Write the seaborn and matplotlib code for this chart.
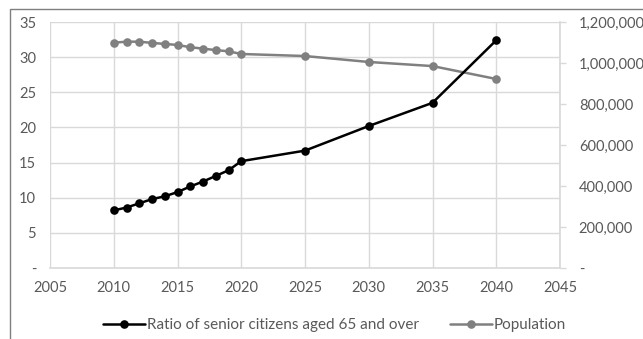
import numpy as np
import pandas as pd
import matplotlib
matplotlib.use('Agg')
import matplotlib.pyplot as plt
import seaborn as sns
from matplotlib.ticker import FuncFormatter, MultipleLocator
from matplotlib.lines import Line2D
from matplotlib.patches import Rectangle

# data
years = [2010, 2011, 2012, 2013, 2014, 2015, 2016, 2017, 2018, 2019, 2020, 2025, 2030, 2035, 2040]
ratio = [8.2, 8.6, 9.2, 9.8, 10.2, 10.8, 11.6, 12.3, 13.1, 13.9, 15.2, 16.7, 20.2, 23.5, 32.4]
population = [1099000, 1104000, 1104000, 1098000, 1093000, 1088000, 1077000, 1070000,
              1063000, 1057000, 1044000, 1034000, 1005000, 985000, 922000]
ratio_label = "Ratio of senior citizens aged 65 and over"
pop_label = "Population"

df = pd.DataFrame({"year": years, "ratio": ratio, "population": population})

sns.set_theme(style="white")
plt.rcParams['font.family'] = ['Lato', 'DejaVu Sans']
text_col = "#595959"
grid_col = "#d9d9d9"
ms, lw = 6.2, 1.8

fig = plt.figure(figsize=(6.43, 3.39), dpi=100)
rect = [50 / 643, 1 - 268 / 339, 510 / 643, 246 / 339]
ax = fig.add_axes(rect)            # grid + left axis
ax2 = ax.twinx()                   # population, right axis
ax3 = fig.add_axes(rect, sharex=ax, sharey=ax)  # ratio line on top
ax.set_zorder(0)
ax2.set_zorder(1)
ax3.set_zorder(2)
ax2.patch.set_visible(False)
ax3.patch.set_visible(False)

sns.lineplot(data=df, x="year", y="population", ax=ax2, color="#808080", marker="o",
             markersize=ms, linewidth=lw, markeredgewidth=0)
sns.lineplot(data=df, x="year", y="ratio", ax=ax3, color="black", marker="o",
             markersize=ms, linewidth=lw, markeredgewidth=0)

ax.set_xlim(2005, 2045)
ax.set_ylim(0, 35)
ax2.set_ylim(0, 1200000)
ax.xaxis.set_major_locator(MultipleLocator(5))
ax.yaxis.set_major_locator(MultipleLocator(5))
ax2.yaxis.set_major_locator(MultipleLocator(200000))

ax.yaxis.set_major_formatter(FuncFormatter(lambda v, p: "-" if v == 0 else f"{v:.0f}"))
ax2.yaxis.set_major_formatter(FuncFormatter(lambda v, p: "-" if v == 0 else f"{v:,.0f}"))

ax.grid(True, color=grid_col, linewidth=1)
ax2.grid(False)
ax3.grid(False)
for a in (ax, ax2, ax3):
    a.set_xlabel("")
    a.set_ylabel("")
    for s in a.spines.values():
        s.set_visible(False)
ax3.tick_params(left=False, bottom=False, labelleft=False, labelbottom=False)

ax2.spines['right'].set_visible(True)
ax2.spines['right'].set_color(grid_col)
ax2.spines['bottom'].set_visible(True)
ax2.spines['bottom'].set_color(grid_col)
ax2.spines['bottom'].set_linewidth(1.2)

ax.tick_params(axis='x', length=0, pad=9, labelsize=10.5, labelcolor=text_col)
ax.tick_params(axis='y', length=0, pad=10, labelsize=10.5, labelcolor=text_col)
ax2.tick_params(axis='y', right=True, length=4.5, width=1, color=grid_col, pad=9,
                labelsize=10.5, labelcolor=text_col)

handles = [Line2D([], [], color="black", marker="o", markersize=ms, linewidth=lw, markeredgewidth=0),
           Line2D([], [], color="#808080", marker="o", markersize=ms, linewidth=lw, markeredgewidth=0)]
fig.legend(handles, [ratio_label, pop_label], loc="center", bbox_to_anchor=(0.52, 1 - 325 / 339),
           ncol=2, frameon=False, fontsize=11, labelcolor=text_col, handlelength=2.8,
           handletextpad=0.1, columnspacing=2.0)

fig.patches.append(Rectangle((10 / 643, -0.1), 1.2, 1 - 9 / 339 + 0.1, transform=fig.transFigure,
                             fill=False, edgecolor="#7f7f7f", linewidth=1))

fig.savefig("out.png", dpi=100)
